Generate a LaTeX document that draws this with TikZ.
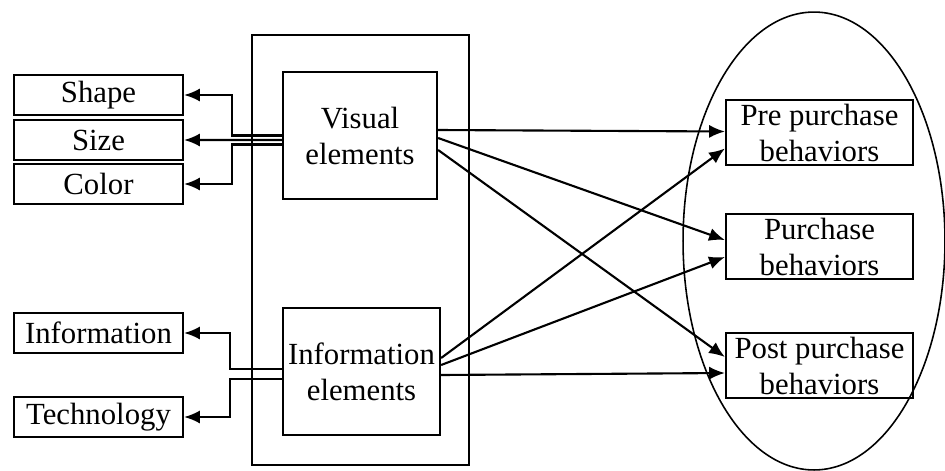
\documentclass[tikz,border=0pt]{standalone}
\usepackage{fontspec}
\setmainfont{Liberation Serif}
\usetikzlibrary{arrows.meta,shapes.geometric,calc}
\begin{document}
\begin{tikzpicture}[x=0.02cm,y=-0.02cm,
  box/.style={draw,line width=1.3pt,inner sep=0pt,align=center,font=\fontsize{17.5}{20.5}\selectfont},
  smallbox/.style={box,minimum width=3.38cm,minimum height=0.8cm},
  bigbox/.style={box,minimum width=3.74cm,minimum height=1.3cm},
  arr/.style={line width=1.2pt,-{Latex[length=9pt,width=7.5pt]}},
  ln/.style={line width=1pt}]
\useasboundingbox (0,0) rectangle (945,470);
% frame and ellipse
\node[draw,line width=1.2pt,minimum width=4.34cm,minimum height=8.6cm,inner sep=0pt] (frame) at (360.5,250) {};
\node[draw,ellipse,line width=0.9pt,minimum width=5.24cm,minimum height=9.16cm,inner sep=0pt] (ell) at (814,241) {};
% left boxes
\node[smallbox] (shape) at (98.5,95) {Shape};
\node[smallbox] (size) at (98.5,140) {Size};
\node[smallbox] (color) at (98.5,184) {Color};
\node[smallbox] (info) at (98.5,333) {Information};
\node[smallbox] (tech) at (98.5,417) {Technology};
% middle boxes
\node[box,minimum width=3.08cm,minimum height=2.54cm] (vis) at (360,135.5) {Visual\\elements};
\node[box,minimum width=3.14cm,minimum height=2.54cm] (ie) at (361.5,371.5) {Information\\elements};
% right boxes
\node[bigbox] (pre) at (819.5,132.5) {Pre purchase\\behaviors};
\node[bigbox] (pur) at (819.5,246.5) {Purchase\\behaviors};
\node[bigbox] (post) at (819.5,365.5) {Post purchase\\behaviors};
% bend coordinates
\coordinate (vx) at (232,0);
\coordinate (ix) at (230,0);
% visual to left
\coordinate (v1) at ([yshift=0cm]vis.west);
\coordinate (v2) at ([yshift=-0.09cm]vis.west);
\coordinate (v3) at ([yshift=-0.18cm]vis.west);
\draw[arr] (v1) -- (v1 -| vx) |- (shape.east);
\draw[arr] (v2) -- (size.east);
\draw[arr] (v3) -- (v3 -| vx) |- (color.east);
% info to left
\coordinate (i1) at ([yshift=0.05cm]ie.west);
\coordinate (i2) at ([yshift=-0.15cm]ie.west);
\draw[arr] (i1) -- (i1 -| ix) |- (info.east);
\draw[arr] (i2) -- (i2 -| ix) |- (tech.east);
% to right
\draw[arr] ([yshift=0.11cm]vis.east) -- ([yshift=0.02cm]pre.west);
\draw[arr] ([yshift=-0.05cm]vis.east) -- ([yshift=0.13cm]pur.west);
\draw[arr] ([yshift=-0.29cm]vis.east) -- ([yshift=0.17cm]post.west);
\draw[arr] ([yshift=0.27cm]ie.east) -- ([yshift=-0.32cm]pre.west);
\draw[arr] ([yshift=0.13cm]ie.east) -- ([yshift=-0.21cm]pur.west);
\draw[arr] ([yshift=-0.07cm]ie.east) -- ([yshift=-0.15cm]post.west);
\end{tikzpicture}
\end{document}
